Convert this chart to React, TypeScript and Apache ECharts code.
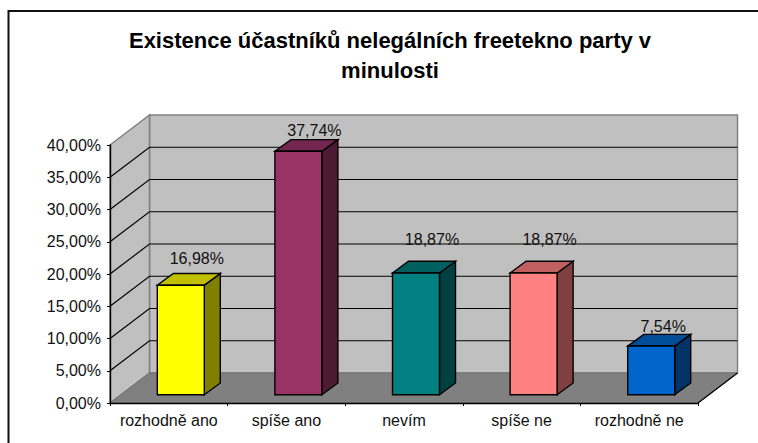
import React, { useEffect, useRef } from "react";
import * as echarts from "echarts";

const titleText = "Existence účastníků nelegálních freetekno party v\nminulosti";
const categories = ["rozhodně ano", "spíše ano", "nevím", "spíše ne", "rozhodně ne"];
const values = [16.98, 37.74, 18.87, 18.87, 7.54];
const valueLabels = ["16,98%", "37,74%", "18,87%", "18,87%", "7,54%"];
const yTicks = [0, 5, 10, 15, 20, 25, 30, 35, 40];
const barFronts = ["#FFFF00", "#993366", "#008080", "#FF8080", "#0066CC"];
const barTops = ["#C0C000", "#732650", "#006060", "#C06060", "#004D99"];
const barSides = ["#808000", "#4D1A33", "#004040", "#804040", "#003366"];
// Vertical lift of each data label above the rear top edge of its bar.
const labelLifts = [14.7, 9, 21.7, 21.7, 8];
const labelShifts = [16, 16, 16, 16, 12];

const DX = 39.5;
const DY = 30;
const BAR_W = 47;
const BAR_DX = 16;
const BAR_DY = 11.7;
const BAR_OX = 12;
const BAR_OY = 8.3;
const FONT = "Liberation Sans";
const TEXT_SIZE = 16;

function poly(points: number[][], fill: string, stroke: string | null, lineWidth = 1) {
  return {
    type: "polygon",
    shape: { points },
    style: { fill, stroke: stroke || undefined, lineWidth: stroke ? lineWidth : 0 },
  };
}

function renderWalls(params: any, api: any) {
  const cs = params.coordSys;
  const l = cs.x;
  const r = cs.x + cs.width;
  const y0 = api.coord([0, 0])[1];
  const yMax = api.coord([0, 40])[1];
  const children: any[] = [
    poly([[l + DX, yMax - DY], [r + DX, yMax - DY], [r + DX, y0 - DY], [l + DX, y0 - DY]], "#C0C0C0", "#808080", 1.5),
    poly([[l, y0], [l + DX, y0 - DY], [l + DX, yMax - DY], [l, yMax]], "#C0C0C0", "#808080", 1.5),
    poly([[l, y0], [r, y0], [r + DX, y0 - DY], [l + DX, y0 - DY]], "#808080", "#707070", 1),
  ];
  yTicks.slice(1, -1).forEach((t) => {
    const y = api.coord([0, t])[1];
    children.push({
      type: "polyline",
      shape: { points: [[l, y], [l + DX, y - DY], [r + DX, y - DY]] },
      style: { fill: "none", stroke: "#000", lineWidth: 1.2 },
    });
  });
  children.push({
    type: "line",
    shape: { x1: r, y1: y0, x2: r + DX, y2: y0 - DY },
    style: { stroke: "#000", lineWidth: 1.2 },
  });
  return { type: "group", children };
}

function renderBar(params: any, api: any) {
  const i = api.value(0);
  const v = api.value(1);
  const cx = api.coord([i, 0])[0];
  const base = api.coord([i, 0])[1];
  const top = api.coord([i, v])[1];
  const x0 = cx + BAR_OX - BAR_W / 2;
  const x1 = x0 + BAR_W;
  const yb = base - BAR_OY;
  const yt = top - BAR_OY;
  const s = "#000";
  return {
    type: "group",
    children: [
      poly([[x1, yb], [x1 + BAR_DX, yb - BAR_DY], [x1 + BAR_DX, yt - BAR_DY], [x1, yt]], barSides[i], s, 1.4),
      poly([[x0, yt], [x1, yt], [x1 + BAR_DX, yt - BAR_DY], [x0 + BAR_DX, yt - BAR_DY]], barTops[i], s, 1.4),
      poly([[x0, yb], [x1, yb], [x1, yt], [x0, yt]], barFronts[i], s, 1.4),
      {
        type: "text",
        style: {
          x: cx + BAR_OX + labelShifts[i],
          y: yt - BAR_DY - labelLifts[i],
          text: valueLabels[i],
          fill: "#111",
          font: `${TEXT_SIZE}px "${FONT}"`,
          align: "center",
          verticalAlign: "middle",
        },
      },
    ],
  };
}

export default function App() {
  const ref = useRef<HTMLDivElement>(null);
  useEffect(() => {
    document.body.style.margin = "0";
    const chart = echarts.init(ref.current!, undefined, { renderer: "svg" });
    chart.setOption({
      animation: false,
      backgroundColor: "#fff",
      textStyle: { fontFamily: FONT },
      title: {
        text: titleText,
        left: 385,
        top: 20,
        textAlign: "center",
        textStyle: { fontFamily: FONT, fontWeight: "bold", fontSize: 22, lineHeight: 30, color: "#000" },
      },
      graphic: [
        {
          type: "rect",
          z: -10,
          shape: { x: 8.5, y: 11, width: 760, height: 440 },
          style: { fill: "none", stroke: "#111", lineWidth: 2 },
        },
      ],
      grid: { left: 110, top: 145, width: 588, height: 258, containLabel: false },
      xAxis: {
        type: "category",
        data: categories,
        z: 5,
        axisLine: { lineStyle: { color: "#000", width: 1.4 } },
        axisTick: { show: true, length: 3, alignWithLabel: false, lineStyle: { color: "#000" } },
        axisLabel: { interval: 0, fontFamily: FONT, fontSize: TEXT_SIZE, color: "#111", margin: 9 },
      },
      yAxis: {
        type: "value",
        min: 0,
        max: 40,
        interval: 5,
        z: 5,
        axisLine: { show: true, lineStyle: { color: "#000", width: 1.4 } },
        axisTick: { show: true, length: 3, lineStyle: { color: "#000" } },
        splitLine: { show: false },
        axisLabel: {
          fontFamily: FONT,
          fontSize: TEXT_SIZE,
          color: "#111",
          margin: 9,
          formatter: (v: number) => v.toFixed(2).replace(".", ",") + "%",
        },
      },
      series: [
        { type: "custom", z: 1, renderItem: renderWalls, data: [[0, 0]], silent: true, clip: false },
        {
          type: "custom",
          z: 2,
          renderItem: renderBar,
          data: values.map((v, i) => [i, v]),
          encode: { x: 0, y: 1 },
          clip: false,
        },
      ],
    });
    return () => chart.dispose();
  }, []);
  return <div ref={ref} style={{ width: 758, height: 443 }} />;
}
